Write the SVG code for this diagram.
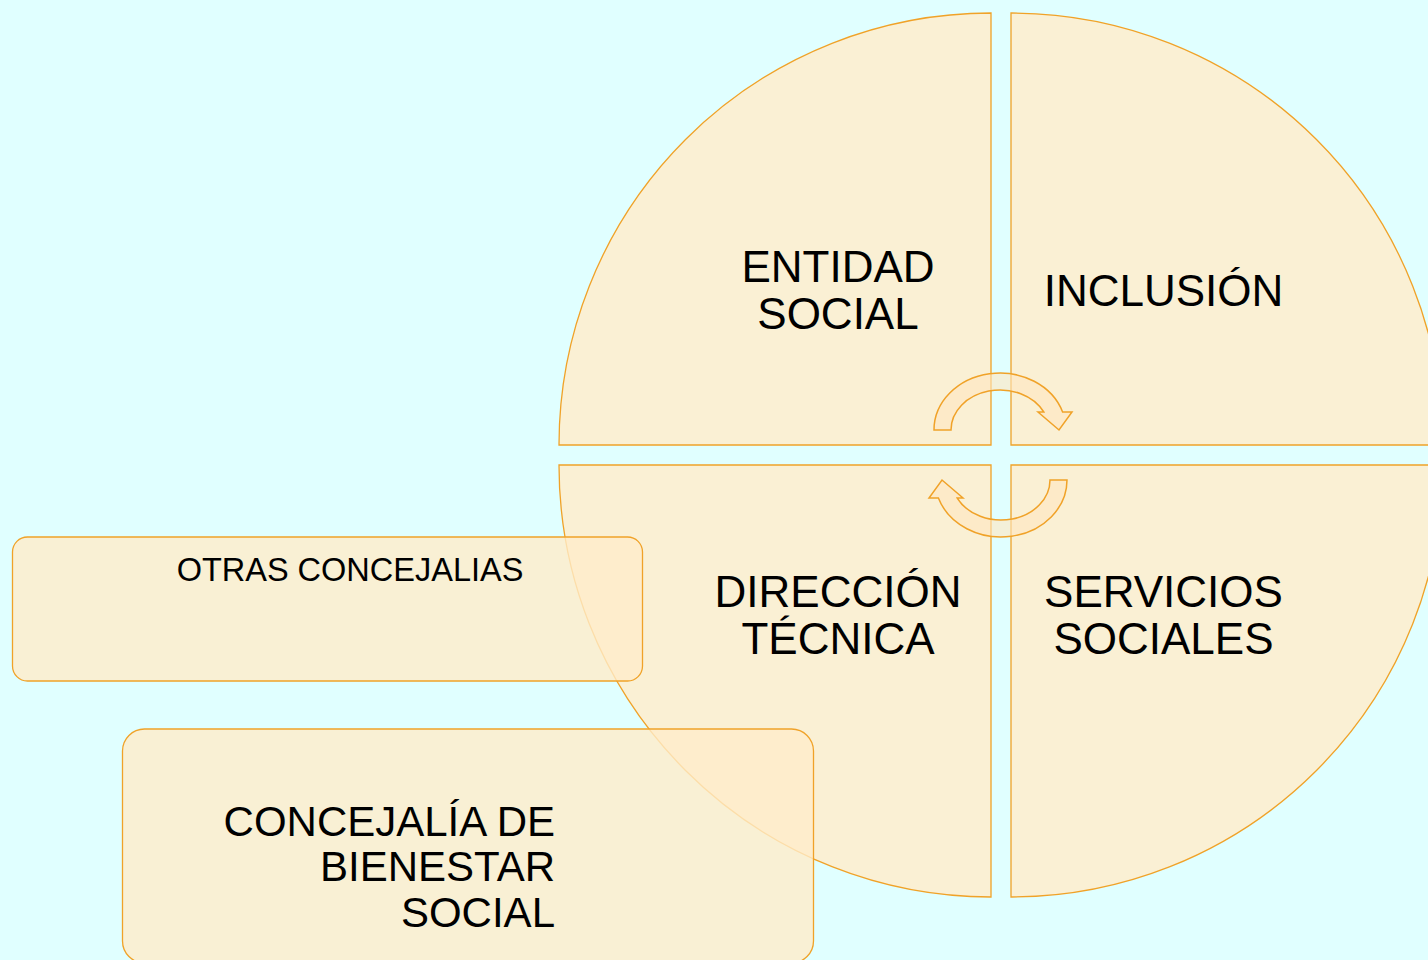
<svg xmlns="http://www.w3.org/2000/svg" width="1428" height="960" viewBox="0 0 1428 960">
<style>
.q{fill:#FAF0D4;stroke:#F0A228;stroke-width:1.3}
.arr{fill:#FFE6C0;fill-opacity:0.6;stroke:#F0A228;stroke-width:1.5}
.box{fill:#FFECC9;fill-opacity:0.8;stroke:#F0A228;stroke-width:1.3}
.t{font-family:"Liberation Sans",Arial,sans-serif;fill:#000}
.big{font-size:44px;text-anchor:middle}
</style>
<rect width="1428" height="960" fill="#E0FFFF"/>
<g id="entidad-social">
<path class="q" d="M991,445 L559,445 A432,432 0 0 1 991,13 Z"/>
<text class="t big" x="838" y="282">ENTIDAD</text>
<text class="t big" x="838" y="329">SOCIAL</text>
</g>
<g id="inclusion">
<path class="q" d="M1011,445 L1011,13 A432,432 0 0 1 1443,445 Z"/>
<text class="t big" x="1163.5" y="306">INCLUSIÓN</text>
</g>
<g id="direccion-tecnica">
<path class="q" d="M991,465 L991,897 A432,432 0 0 1 559,465 Z"/>
<text class="t big" x="838" y="607">DIRECCIÓN</text>
<text class="t big" x="838" y="654">TÉCNICA</text>
</g>
<g id="servicios-sociales">
<path class="q" d="M1011,465 L1443,465 A432,432 0 0 1 1011,897 Z"/>
<text class="t big" x="1163.5" y="607">SERVICIOS</text>
<text class="t big" x="1163.5" y="654">SOCIALES</text>
</g>
<g id="connectors">
<path id="arrow-top" class="arr" d="M934,430 L951,430 A49,40 0 0 1 1043.8,412 L1038,412 L1059,430 L1072,412 L1062.6,412 A66,57 0 0 0 934,430 Z"/>
<path id="arrow-bottom" class="arr" transform="rotate(180 1000.5 455)" d="M934,430 L951,430 A49,40 0 0 1 1043.8,412 L1038,412 L1059,430 L1072,412 L1062.6,412 A66,57 0 0 0 934,430 Z"/>
</g>
<g id="otras-concejalias">
<rect class="box" x="12.5" y="537" width="630" height="144" rx="15"/>
<text class="t" x="350" y="581" font-size="32.5" text-anchor="middle">OTRAS CONCEJALIAS</text>
</g>
<g id="concejalia-bienestar">
<rect class="box" x="122.5" y="729" width="691" height="234" rx="22"/>
<text class="t" font-size="42" text-anchor="end"><tspan x="555" y="836">CONCEJALÍA DE</tspan><tspan x="555" y="881">BIENESTAR</tspan><tspan x="555" y="927">SOCIAL</tspan></text>
</g>
</svg>
